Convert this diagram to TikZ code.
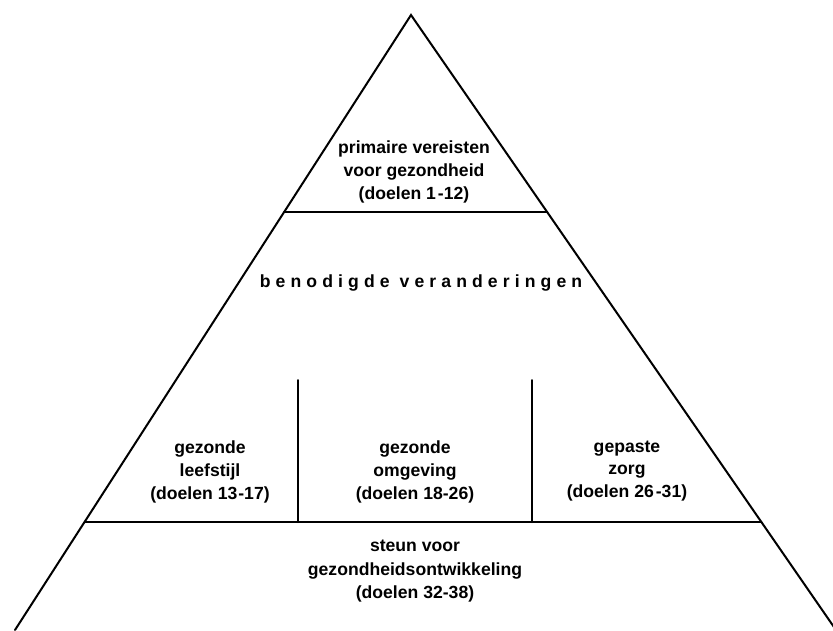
\documentclass[tikz,border=0pt]{standalone}
\usepackage{fontspec}
\setmainfont{Liberation Sans}
\usetikzlibrary{calc}
\begin{document}
\begin{tikzpicture}[x=1pt,y=-1pt,
    edge/.style={line width=2pt, line cap=round},
    label/.style={font=\fontsize{17.6}{22.8}\selectfont\bfseries, align=center, inner sep=0pt}]
  \useasboundingbox (0,0) rectangle (833,630);
  \clip (0,0) rectangle (833,630);
  % pyramid corners
  \coordinate (apex) at (411,15);
  \coordinate (bl) at (15,630);
  \coordinate (br) at (836,630);
  \draw[edge, line join=miter] (bl) -- (apex) -- (br);
  % tier boundaries
  \coordinate (t1l) at ($(apex)!0.3203!(bl)$);
  \coordinate (t1r) at ($(apex)!0.3203!(br)$);
  \coordinate (t2l) at ($(apex)!0.8244!(bl)$);
  \coordinate (t2r) at ($(apex)!0.8244!(br)$);
  \draw[edge] (t1l) -- (t1r);
  \draw[edge] (t2l) -- (t2r);
  % dividers of the middle tier
  \coordinate (d1t) at (298,380);
  \coordinate (d1b) at (298,522);
  \coordinate (d2t) at (532,380);
  \coordinate (d2b) at (532,522);
  \draw[edge] (d1t) -- (d1b);
  \draw[edge] (d2t) -- (d2b);
  % labels
  \node[label] (top) at (414,172) {primaire vereisten\\voor gezondheid\\(doelen 1\kern2pt-12)};
  \node[label] (change) at (421,283) {\addfontfeature{LetterSpace=29}benodigde veranderingen};
  \node[label] (life) at (210,472) {gezonde\\leefstijl\\(doelen 13\kern1pt-17)};
  \node[label] (env) at (415,472) {gezonde\\omgeving\\(doelen 18-26)};
  \node[label] (care) at (627,471) {gepaste\\zorg\\(doelen 26\kern2pt-31)};
  \node[label] (base) at (415,571) {steun voor\\[1pt]gezondheidsontwikkeling\\(doelen 32-38)};
\end{tikzpicture}
\end{document}
